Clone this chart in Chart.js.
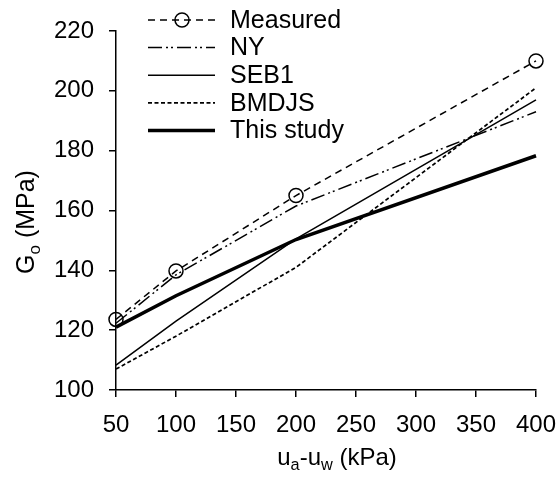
<!DOCTYPE html>
<html>
<head>
<meta charset="utf-8">
<script src="https://cdn.jsdelivr.net/npm/chart.js@4/dist/chart.umd.min.js"></script>
<style>
  html, body { margin: 0; padding: 0; background: #fff; }
  #wrap { width: 558px; height: 477px; }
</style>
</head>
<body>
<div id="wrap"><canvas id="canvasgo"></canvas></div>
<script>
'use strict'

// suction values (kPa) and shear modulus (MPa) per model
const SUCTION = [ 50, 100, 200, 400 ];
const MEASURED = [ 123.6, 139.8, 165.0, 210.0 ];
const NY = [ 122.3, 138.5, 161.5, 193.0 ];
const SEB1 = [ 108.3, 123.0, 150.5, 197.0 ];
const BMDJS = [ 107.0, 118.0, 141.0, 201.0 ];
const THIS_STUDY = [ 121.0, 131.5, 150.3, 178.3 ];

const X_TICKS = [ 50, 100, 150, 200, 250, 300, 350, 400 ];
const Y_TICKS = [ 100, 120, 140, 160, 180, 200, 220 ];

const FONT = "'Liberation Sans', Arial, sans-serif";

/**
 * paare x/y für chart.js
 * @param {Array} values
 */
const toPoints = values => SUCTION.map( ( x, i ) => ({ x: x, y: values[i] }) );

/**
 * text mit tiefgestellten teilen messen / zeichnen
 * @param {CanvasRenderingContext2D} ctx
 * @param {Array} parts  [ [text, sub], ... ]
 */
function richWidth( ctx, parts, size ){
  let w = 0;
  parts.forEach( p => {
    ctx.font = ( p[1] ? size * 0.68 : size ) + 'px ' + FONT;
    w += ctx.measureText( p[0] ).width;
  });
  return w;
}

function drawRich( ctx, parts, size, x, y ){
  parts.forEach( p => {
    ctx.font = ( p[1] ? size * 0.68 : size ) + 'px ' + FONT;
    ctx.fillText( p[0], x, p[1] ? y + size * 0.22 : y );
    x += ctx.measureText( p[0] ).width;
  });
}

  /////////////////////////////////////////////
 // achsentitel und legende selbst zeichnen //
/////////////////////////////////////////////

const decorPlugin = {
  id: 'decor',
  afterDraw( chart ){
    const ctx = chart.ctx;
    ctx.save();
    ctx.fillStyle = '#000';
    ctx.textBaseline = 'alphabetic';
    ctx.textAlign = 'left';

    // x titel
    const xParts = [ [ 'u', false ], [ 'a', true ], [ '-u', false ], [ 'w', true ], [ ' (kPa)', false ] ];
    const xw = richWidth( ctx, xParts, 24 );
    drawRich( ctx, xParts, 24, 337 - xw / 2, 465 );

    // y titel
    const yParts = [ [ 'G', false ], [ 'o', true ], [ ' (MPa)', false ] ];
    const yw = richWidth( ctx, yParts, 25 );
    ctx.save();
    ctx.translate( 34, 222 );
    ctx.rotate( -Math.PI / 2 );
    drawRich( ctx, yParts, 25, -yw / 2, 0 );
    ctx.restore();

    // legende
    const x0 = 148, x1 = 215, tx = 230;
    chart.data.datasets.forEach( ( ds, i ) => {
      const y = 20 + i * 27.6;
      ctx.beginPath();
      ctx.setLineDash( ds.borderDash || [] );
      ctx.lineWidth = ds.borderWidth;
      ctx.strokeStyle = ds.borderColor;
      ctx.moveTo( x0, y );
      ctx.lineTo( x1, y );
      ctx.stroke();
      ctx.setLineDash( [] );
      if( ds.pointRadius > 0 ){
        ctx.beginPath();
        ctx.lineWidth = ds.pointBorderWidth;
        ctx.arc( 182, y, ds.pointRadius, 0, Math.PI * 2 );
        ctx.stroke();
      }
      ctx.font = '25px ' + FONT;
      ctx.textBaseline = 'middle';
      ctx.fillText( ds.label, tx, y + 1 );
    });
    ctx.restore();
  }
};

const lineSet = ( label, values, width, dash ) => ({
  label: label,
  data: toPoints( values ),
  borderColor: '#000',
  backgroundColor: '#000',
  borderWidth: width,
  borderDash: dash,
  pointRadius: 0,
  pointHoverRadius: 0,
  tension: 0,
  clip: false
});

const measuredSet = lineSet( 'Measured', MEASURED, 1.5, [ 7, 5 ] );
measuredSet.pointRadius = 7;
measuredSet.pointBorderWidth = 1.5;
measuredSet.pointBackgroundColor = 'rgba(0,0,0,0)';
measuredSet.pointBorderColor = '#000';

const axisStyle = ( min, max, ticks ) => ({
  type: 'linear',
  min: min,
  max: max,
  afterBuildTicks: scale => { scale.ticks = ticks.map( v => ({ value: v }) ); },
  grid: {
    display: true,
    drawOnChartArea: false,
    drawTicks: true,
    tickLength: 7,
    color: '#000',
    lineWidth: 1.5
  },
  border: { display: true, color: '#000', width: 1.5 },
  ticks: {
    color: '#000',
    font: { family: FONT, size: 24 },
    padding: 14,
    autoSkip: false,
    maxRotation: 0
  }
});

// feste achsenmaße, randlabels dürfen über den plotbereich ragen
const xAxis = axisStyle( 50, 400, X_TICKS );
xAxis.afterFit = scale => {
  scale.height = 87;
  scale.paddingLeft = 0;
  scale.paddingRight = 0;
};
const yAxis = axisStyle( 100, 220, Y_TICKS );
yAxis.afterFit = scale => {
  scale.width = 116;
  scale.paddingTop = 0;
  scale.paddingBottom = 0;
};
yAxis.ticks.padding = 15;

new Chart(
  document.getElementById( 'canvasgo' ),
  {
    type: 'line',
    data: {
      datasets: [
        measuredSet,
        lineSet( 'NY', NY, 1.5, [ 14, 4, 2, 3, 2, 4 ] ),
        lineSet( 'SEB1', SEB1, 1.5, [] ),
        lineSet( 'BMDJS', BMDJS, 1.7, [ 4, 2.5 ] ),
        lineSet( 'This study', THIS_STUDY, 3.5, [] )
      ]
    },
    options: {
      responsive: true,
      maintainAspectRatio: false,
      animation: false,
      layout: { padding: { top: 31, right: 22, left: 0, bottom: 0 } },
      scales: { x: xAxis, y: yAxis },
      plugins: {
        legend: { display: false },
        tooltip: { enabled: false }
      }
    },
    plugins: [ decorPlugin ]
  }
);
</script>
</body>
</html>
